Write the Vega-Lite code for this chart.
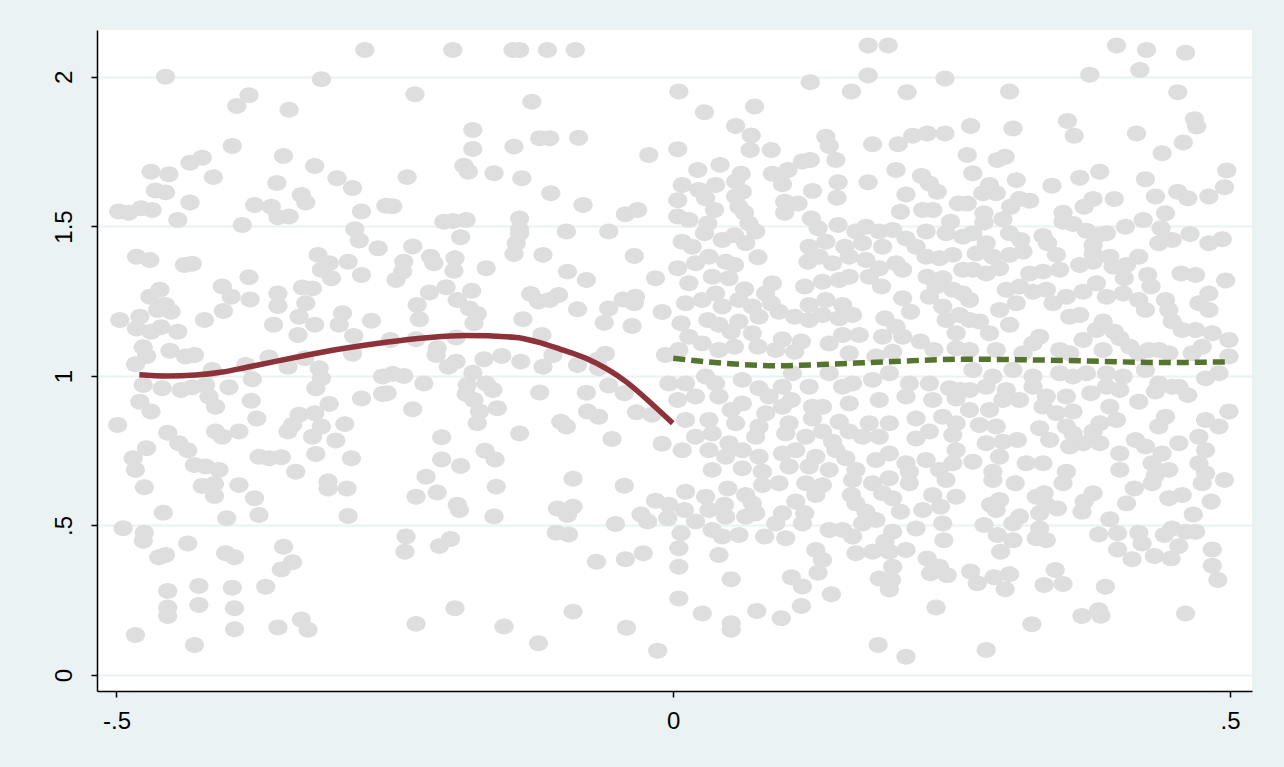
{"$schema":"https://vega.github.io/schema/vega-lite/v6.json","width":1155,"height":661,"autosize":{"type":"none"},"padding":{"left":97,"top":30,"right":32,"bottom":76},"background":"#EAF2F3","config":{"view":{"fill":"white","stroke":null},"font":"Liberation Sans"},
"datasets":{
"left":[{"x":-0.4795,"y":1.004},{"x":-0.455,"y":1.0},{"x":-0.4286,"y":1.003},{"x":-0.405,"y":1.013},{"x":-0.383,"y":1.029},{"x":-0.3388,"y":1.0625},{"x":-0.2993,"y":1.09},{"x":-0.258,"y":1.113},{"x":-0.2185,"y":1.129},{"x":-0.1862,"y":1.135},{"x":-0.1413,"y":1.129},{"x":-0.1233,"y":1.115},{"x":-0.1017,"y":1.09},{"x":-0.0784,"y":1.059},{"x":-0.0425,"y":0.981},{"x":-0.0182,"y":0.903},{"x":-0.0005,"y":0.842}],
"right":[{"x":0.0,"y":1.059},{"x":0.047,"y":1.042},{"x":0.092,"y":1.034},{"x":0.137,"y":1.039},{"x":0.182,"y":1.046},{"x":0.263,"y":1.056},{"x":0.352,"y":1.052},{"x":0.442,"y":1.045},{"x":0.496,"y":1.047}],
"pts":[
{"x":-0.277,"y":2.090},{"x":-0.456,"y":2.001},{"x":-0.316,"y":1.992},{"x":-0.381,"y":1.939},{"x":-0.392,"y":1.903},{"x":-0.345,"y":1.890},{"x":-0.396,"y":1.769},{"x":-0.350,"y":1.736},{"x":-0.423,"y":1.730},{"x":-0.434,"y":1.713},{"x":-0.322,"y":1.702},{"x":-0.469,"y":1.683},{"x":-0.453,"y":1.675},{"x":-0.413,"y":1.665},{"x":-0.302,"y":1.661},{"x":-0.356,"y":1.645},{"x":-0.288,"y":1.629},{"x":-0.465,"y":1.620},{"x":-0.456,"y":1.614},{"x":-0.334,"y":1.605},{"x":-0.330,"y":1.580},{"x":-0.434,"y":1.580},{"x":-0.376,"y":1.572},{"x":-0.361,"y":1.566},{"x":-0.498,"y":1.550},{"x":-0.489,"y":1.546},{"x":-0.478,"y":1.561},{"x":-0.468,"y":1.555},{"x":-0.280,"y":1.550},{"x":-0.258,"y":1.569},{"x":-0.445,"y":1.522},{"x":-0.355,"y":1.531},{"x":-0.345,"y":1.533},{"x":-0.387,"y":1.505},{"x":-0.286,"y":1.491},{"x":-0.282,"y":1.453},{"x":-0.265,"y":1.427},
{"x":-0.198,"y":2.090},{"x":-0.144,"y":2.090},{"x":-0.138,"y":2.090},{"x":-0.113,"y":2.090},{"x":-0.088,"y":2.090},{"x":-0.232,"y":1.942},{"x":-0.127,"y":1.917},{"x":-0.180,"y":1.823},{"x":-0.180,"y":1.759},{"x":-0.120,"y":1.795},{"x":-0.111,"y":1.795},{"x":-0.085,"y":1.797},{"x":-0.143,"y":1.767},{"x":-0.022,"y":1.739},{"x":-0.239,"y":1.665},{"x":-0.188,"y":1.703},{"x":-0.184,"y":1.683},{"x":-0.161,"y":1.678},{"x":-0.136,"y":1.661},{"x":-0.110,"y":1.611},{"x":-0.252,"y":1.568},{"x":-0.081,"y":1.572},{"x":-0.043,"y":1.541},{"x":-0.032,"y":1.555},{"x":-0.206,"y":1.516},{"x":-0.198,"y":1.518},{"x":-0.186,"y":1.522},{"x":-0.138,"y":1.527},{"x":-0.138,"y":1.490},{"x":-0.138,"y":1.477},{"x":-0.096,"y":1.483},{"x":-0.058,"y":1.483},{"x":-0.191,"y":1.464},{"x":-0.141,"y":1.444},{"x":-0.234,"y":1.433},
{"x":-0.482,"y":1.399},{"x":-0.470,"y":1.388},{"x":-0.439,"y":1.371},{"x":-0.432,"y":1.375},{"x":-0.319,"y":1.405},{"x":-0.309,"y":1.377},{"x":-0.292,"y":1.382},{"x":-0.316,"y":1.355},{"x":-0.307,"y":1.327},{"x":-0.280,"y":1.338},{"x":-0.381,"y":1.330},{"x":-0.405,"y":1.299},{"x":-0.397,"y":1.265},{"x":-0.380,"y":1.256},{"x":-0.333,"y":1.296},{"x":-0.324,"y":1.293},{"x":-0.355,"y":1.276},{"x":-0.355,"y":1.234},{"x":-0.330,"y":1.243},{"x":-0.461,"y":1.288},{"x":-0.470,"y":1.265},{"x":-0.456,"y":1.237},{"x":-0.451,"y":1.215},{"x":-0.463,"y":1.221},{"x":-0.497,"y":1.187},{"x":-0.479,"y":1.198},{"x":-0.482,"y":1.159},{"x":-0.460,"y":1.163},{"x":-0.469,"y":1.148},{"x":-0.445,"y":1.148},{"x":-0.421,"y":1.187},{"x":-0.404,"y":1.217},{"x":-0.359,"y":1.171},{"x":-0.336,"y":1.198},{"x":-0.322,"y":1.171},{"x":-0.337,"y":1.137},{"x":-0.297,"y":1.210},{"x":-0.300,"y":1.171},{"x":-0.287,"y":1.134},{"x":-0.271,"y":1.185},{"x":-0.476,"y":1.096},{"x":-0.473,"y":1.067},{"x":-0.452,"y":1.084},{"x":-0.438,"y":1.065},{"x":-0.430,"y":1.070},{"x":-0.483,"y":1.039},{"x":-0.363,"y":1.062},{"x":-0.346,"y":1.031},{"x":-0.331,"y":1.059},{"x":-0.288,"y":1.074},{"x":-0.414,"y":1.020},{"x":-0.384,"y":1.037},{"x":-0.318,"y":1.026},{"x":-0.316,"y":0.992},{"x":-0.261,"y":0.998},{"x":-0.476,"y":0.970},{"x":-0.459,"y":0.959},{"x":-0.442,"y":0.953},{"x":-0.432,"y":0.962},{"x":-0.420,"y":0.970},{"x":-0.399,"y":0.962},{"x":-0.378,"y":0.989},{"x":-0.321,"y":0.959},{"x":-0.417,"y":0.931},{"x":-0.479,"y":0.914},{"x":-0.469,"y":0.881},{"x":-0.411,"y":0.897},{"x":-0.379,"y":0.917},{"x":-0.309,"y":0.906},{"x":-0.280,"y":0.925},{"x":-0.261,"y":0.940},{"x":-0.336,"y":0.870},{"x":-0.322,"y":0.875},{"x":-0.374,"y":0.858},{"x":-0.499,"y":0.836},{"x":-0.342,"y":0.836},{"x":-0.316,"y":0.831},{"x":-0.295,"y":0.839},{"x":-0.454,"y":0.810},{"x":-0.411,"y":0.814},{"x":-0.390,"y":0.814},{"x":-0.346,"y":0.814},{"x":-0.324,"y":0.797},{"x":-0.405,"y":0.797},{"x":-0.303,"y":0.784},{"x":-0.444,"y":0.775},{"x":-0.436,"y":0.752},{"x":-0.473,"y":0.758},{"x":-0.485,"y":0.725},{"x":-0.372,"y":0.730},{"x":-0.363,"y":0.725},{"x":-0.352,"y":0.728},{"x":-0.321,"y":0.739},{"x":-0.289,"y":0.725},{"x":-0.430,"y":0.702},{"x":-0.420,"y":0.697},{"x":-0.408,"y":0.686},{"x":-0.483,"y":0.686},{"x":-0.339,"y":0.680},
{"x":-0.242,"y":1.382},{"x":-0.243,"y":1.349},{"x":-0.249,"y":1.321},{"x":-0.218,"y":1.399},{"x":-0.215,"y":1.377},{"x":-0.196,"y":1.394},{"x":-0.197,"y":1.352},{"x":-0.168,"y":1.360},{"x":-0.143,"y":1.408},{"x":-0.117,"y":1.405},{"x":-0.095,"y":1.349},{"x":-0.078,"y":1.321},{"x":-0.035,"y":1.401},{"x":-0.016,"y":1.327},{"x":-0.219,"y":1.279},{"x":-0.204,"y":1.297},{"x":-0.181,"y":1.285},{"x":-0.194,"y":1.254},{"x":-0.230,"y":1.237},{"x":-0.183,"y":1.226},{"x":-0.176,"y":1.207},{"x":-0.228,"y":1.190},{"x":-0.179,"y":1.176},{"x":-0.128,"y":1.274},{"x":-0.121,"y":1.249},{"x":-0.111,"y":1.254},{"x":-0.103,"y":1.271},{"x":-0.086,"y":1.223},{"x":-0.058,"y":1.226},{"x":-0.045,"y":1.256},{"x":-0.034,"y":1.265},{"x":-0.035,"y":1.243},{"x":-0.062,"y":1.178},{"x":-0.037,"y":1.167},{"x":-0.010,"y":1.214},{"x":-0.135,"y":1.190},{"x":-0.254,"y":1.120},{"x":-0.231,"y":1.123},{"x":-0.195,"y":1.129},{"x":-0.118,"y":1.137},{"x":-0.212,"y":1.093},{"x":-0.213,"y":1.070},{"x":-0.195,"y":1.048},{"x":-0.202,"y":1.031},{"x":-0.170,"y":1.056},{"x":-0.154,"y":1.067},{"x":-0.137,"y":1.048},{"x":-0.117,"y":1.031},{"x":-0.108,"y":1.070},{"x":-0.086,"y":1.037},{"x":-0.061,"y":1.074},{"x":-0.068,"y":1.054},{"x":-0.067,"y":1.026},{"x":-0.007,"y":1.070},{"x":-0.252,"y":1.007},{"x":-0.242,"y":1.000},{"x":-0.180,"y":1.011},{"x":-0.224,"y":0.975},{"x":-0.185,"y":0.970},{"x":-0.168,"y":0.975},{"x":-0.162,"y":0.953},{"x":-0.257,"y":0.942},{"x":-0.186,"y":0.940},{"x":-0.179,"y":0.920},{"x":-0.120,"y":0.945},{"x":-0.078,"y":0.944},{"x":-0.058,"y":0.968},{"x":-0.044,"y":0.942},{"x":-0.004,"y":0.975},{"x":-0.234,"y":0.889},{"x":-0.174,"y":0.881},{"x":-0.158,"y":0.892},{"x":-0.077,"y":0.881},{"x":-0.067,"y":0.864},{"x":-0.033,"y":0.879},{"x":-0.019,"y":0.870},{"x":-0.176,"y":0.842},{"x":-0.101,"y":0.847},{"x":-0.096,"y":0.831},{"x":-0.138,"y":0.808},{"x":-0.208,"y":0.795},{"x":-0.055,"y":0.789},{"x":-0.010,"y":0.773},{"x":-0.169,"y":0.750},{"x":-0.160,"y":0.721},{"x":-0.208,"y":0.721},{"x":-0.191,"y":0.699},
{"x":-0.475,"y":0.628},{"x":-0.423,"y":0.632},{"x":-0.412,"y":0.639},{"x":-0.412,"y":0.599},{"x":-0.390,"y":0.635},{"x":-0.376,"y":0.591},{"x":-0.310,"y":0.647},{"x":-0.310,"y":0.624},{"x":-0.293,"y":0.624},{"x":-0.458,"y":0.543},{"x":-0.401,"y":0.524},{"x":-0.372,"y":0.535},{"x":-0.292,"y":0.532},{"x":-0.494,"y":0.491},{"x":-0.475,"y":0.476},{"x":-0.476,"y":0.449},{"x":-0.436,"y":0.440},{"x":-0.462,"y":0.394},{"x":-0.456,"y":0.401},{"x":-0.402,"y":0.407},{"x":-0.394,"y":0.394},{"x":-0.350,"y":0.429},{"x":-0.342,"y":0.377},{"x":-0.352,"y":0.353},{"x":-0.454,"y":0.281},{"x":-0.426,"y":0.298},{"x":-0.396,"y":0.292},{"x":-0.366,"y":0.295},{"x":-0.454,"y":0.226},{"x":-0.454,"y":0.197},{"x":-0.426,"y":0.234},{"x":-0.394,"y":0.223},{"x":-0.483,"y":0.134},{"x":-0.430,"y":0.100},{"x":-0.394,"y":0.153},{"x":-0.355,"y":0.159},{"x":-0.334,"y":0.186},{"x":-0.328,"y":0.151},
{"x":-0.222,"y":0.663},{"x":-0.231,"y":0.596},{"x":-0.212,"y":0.610},{"x":-0.194,"y":0.569},{"x":-0.192,"y":0.552},{"x":-0.159,"y":0.630},{"x":-0.161,"y":0.530},{"x":-0.090,"y":0.656},{"x":-0.104,"y":0.557},{"x":-0.090,"y":0.563},{"x":-0.095,"y":0.535},{"x":-0.105,"y":0.476},{"x":-0.094,"y":0.470},{"x":-0.044,"y":0.633},{"x":-0.016,"y":0.583},{"x":-0.004,"y":0.569},{"x":-0.029,"y":0.537},{"x":-0.023,"y":0.513},{"x":-0.052,"y":0.505},{"x":-0.005,"y":0.524},{"x":-0.240,"y":0.463},{"x":-0.241,"y":0.412},{"x":-0.210,"y":0.431},{"x":-0.200,"y":0.455},{"x":-0.069,"y":0.379},{"x":-0.043,"y":0.387},{"x":-0.027,"y":0.407},{"x":-0.196,"y":0.223},{"x":-0.231,"y":0.171},{"x":-0.152,"y":0.162},{"x":-0.121,"y":0.106},{"x":-0.090,"y":0.212},{"x":-0.042,"y":0.158},{"x":-0.014,"y":0.081},
{"x":0.175,"y":2.105},{"x":0.193,"y":2.105},{"x":0.175,"y":2.005},{"x":0.123,"y":1.982},{"x":0.244,"y":1.995},{"x":0.160,"y":1.951},{"x":0.210,"y":1.949},{"x":0.005,"y":1.951},{"x":0.028,"y":1.882},{"x":0.073,"y":1.901},{"x":0.056,"y":1.836},{"x":0.070,"y":1.804},{"x":0.069,"y":1.756},{"x":0.088,"y":1.756},{"x":0.137,"y":1.800},{"x":0.140,"y":1.769},{"x":0.179,"y":1.775},{"x":0.202,"y":1.775},{"x":0.215,"y":1.803},{"x":0.228,"y":1.811},{"x":0.244,"y":1.811},{"x":0.004,"y":1.758},{"x":0.022,"y":1.689},{"x":0.042,"y":1.706},{"x":0.061,"y":1.676},{"x":0.056,"y":1.650},{"x":0.089,"y":1.676},{"x":0.103,"y":1.689},{"x":0.116,"y":1.717},{"x":0.123,"y":1.722},{"x":0.146,"y":1.722},{"x":0.098,"y":1.641},{"x":0.148,"y":1.648},{"x":0.175,"y":1.648},{"x":0.200,"y":1.689},{"x":0.223,"y":1.669},{"x":0.230,"y":1.644},{"x":0.237,"y":1.616},{"x":0.008,"y":1.639},{"x":0.023,"y":1.622},{"x":0.038,"y":1.639},{"x":0.029,"y":1.594},{"x":0.062,"y":1.616},{"x":0.056,"y":1.600},{"x":0.004,"y":1.588},{"x":0.037,"y":1.555},{"x":0.059,"y":1.566},{"x":0.064,"y":1.546},{"x":0.100,"y":1.583},{"x":0.112,"y":1.577},{"x":0.100,"y":1.546},{"x":0.125,"y":1.619},{"x":0.147,"y":1.596},{"x":0.209,"y":1.607},{"x":0.204,"y":1.549},{"x":0.224,"y":1.555},{"x":0.233,"y":1.555},{"x":0.256,"y":1.577},{"x":0.249,"y":1.516},{"x":0.014,"y":1.522},{"x":0.004,"y":1.533},{"x":0.031,"y":1.510},{"x":0.068,"y":1.510},{"x":0.074,"y":1.483},{"x":0.028,"y":1.477},{"x":0.055,"y":1.471},{"x":0.044,"y":1.455},{"x":0.065,"y":1.444},{"x":0.008,"y":1.449},{"x":0.017,"y":1.432},{"x":0.124,"y":1.527},{"x":0.130,"y":1.494},{"x":0.148,"y":1.505},{"x":0.122,"y":1.432},{"x":0.137,"y":1.449},{"x":0.154,"y":1.432},{"x":0.164,"y":1.483},{"x":0.173,"y":1.499},{"x":0.185,"y":1.483},{"x":0.197,"y":1.488},{"x":0.209,"y":1.460},{"x":0.227,"y":1.483},{"x":0.245,"y":1.477},{"x":0.260,"y":1.466},{"x":0.170,"y":1.444},{"x":0.188,"y":1.432},{"x":0.218,"y":1.432},
{"x":0.398,"y":2.105},{"x":0.425,"y":2.090},{"x":0.460,"y":2.081},{"x":0.374,"y":2.007},{"x":0.419,"y":2.023},{"x":0.302,"y":1.951},{"x":0.453,"y":1.949},{"x":0.267,"y":1.836},{"x":0.305,"y":1.828},{"x":0.354,"y":1.853},{"x":0.360,"y":1.803},{"x":0.416,"y":1.811},{"x":0.468,"y":1.859},{"x":0.470,"y":1.834},{"x":0.458,"y":1.781},{"x":0.439,"y":1.745},{"x":0.264,"y":1.739},{"x":0.291,"y":1.722},{"x":0.298,"y":1.733},{"x":0.269,"y":1.678},{"x":0.308,"y":1.655},{"x":0.284,"y":1.639},{"x":0.278,"y":1.611},{"x":0.290,"y":1.611},{"x":0.340,"y":1.636},{"x":0.365,"y":1.663},{"x":0.383,"y":1.683},{"x":0.424,"y":1.658},{"x":0.497,"y":1.687},{"x":0.495,"y":1.631},{"x":0.264,"y":1.577},{"x":0.311,"y":1.592},{"x":0.320,"y":1.586},{"x":0.303,"y":1.566},{"x":0.377,"y":1.592},{"x":0.369,"y":1.566},{"x":0.396,"y":1.592},{"x":0.433,"y":1.600},{"x":0.453,"y":1.616},{"x":0.462,"y":1.594},{"x":0.481,"y":1.600},{"x":0.279,"y":1.544},{"x":0.279,"y":1.513},{"x":0.296,"y":1.524},{"x":0.350,"y":1.546},{"x":0.350,"y":1.516},{"x":0.359,"y":1.508},{"x":0.371,"y":1.486},{"x":0.406,"y":1.499},{"x":0.422,"y":1.522},{"x":0.442,"y":1.544},{"x":0.438,"y":1.494},{"x":0.269,"y":1.477},{"x":0.281,"y":1.444},{"x":0.302,"y":1.477},{"x":0.312,"y":1.455},{"x":0.332,"y":1.468},{"x":0.336,"y":1.444},{"x":0.381,"y":1.471},{"x":0.389,"y":1.477},{"x":0.377,"y":1.438},{"x":0.436,"y":1.444},{"x":0.448,"y":1.455},{"x":0.464,"y":1.475},{"x":0.481,"y":1.444},{"x":0.493,"y":1.457},
{"x":0.004,"y":1.360},{"x":0.020,"y":1.377},{"x":0.032,"y":1.399},{"x":0.047,"y":1.382},{"x":0.055,"y":1.371},{"x":0.076,"y":1.397},{"x":0.035,"y":1.332},{"x":0.014,"y":1.310},{"x":0.050,"y":1.327},{"x":0.064,"y":1.290},{"x":0.089,"y":1.310},{"x":0.121,"y":1.382},{"x":0.131,"y":1.399},{"x":0.143,"y":1.377},{"x":0.158,"y":1.399},{"x":0.173,"y":1.388},{"x":0.185,"y":1.360},{"x":0.200,"y":1.377},{"x":0.206,"y":1.355},{"x":0.227,"y":1.399},{"x":0.239,"y":1.394},{"x":0.251,"y":1.405},{"x":0.260,"y":1.355},{"x":0.118,"y":1.299},{"x":0.134,"y":1.315},{"x":0.149,"y":1.321},{"x":0.158,"y":1.332},{"x":0.176,"y":1.332},{"x":0.187,"y":1.299},{"x":0.228,"y":1.332},{"x":0.242,"y":1.327},{"x":0.236,"y":1.299},{"x":0.251,"y":1.288},{"x":0.260,"y":1.276},{"x":0.011,"y":1.243},{"x":0.026,"y":1.254},{"x":0.038,"y":1.276},{"x":0.044,"y":1.232},{"x":0.059,"y":1.254},{"x":0.071,"y":1.232},{"x":0.083,"y":1.276},{"x":0.088,"y":1.243},{"x":0.077,"y":1.198},{"x":0.095,"y":1.215},{"x":0.109,"y":1.198},{"x":0.122,"y":1.237},{"x":0.122,"y":1.187},{"x":0.137,"y":1.254},{"x":0.152,"y":1.237},{"x":0.134,"y":1.204},{"x":0.149,"y":1.193},{"x":0.161,"y":1.204},{"x":0.190,"y":1.193},{"x":0.206,"y":1.260},{"x":0.213,"y":1.215},{"x":0.230,"y":1.265},{"x":0.242,"y":1.232},{"x":0.245,"y":1.187},{"x":0.257,"y":1.204},{"x":0.007,"y":1.176},{"x":0.031,"y":1.187},{"x":0.041,"y":1.171},{"x":0.059,"y":1.182},{"x":0.014,"y":1.131},{"x":0.026,"y":1.109},{"x":0.052,"y":1.148},{"x":0.071,"y":1.143},{"x":0.055,"y":1.098},{"x":0.076,"y":1.098},{"x":0.098,"y":1.123},{"x":0.115,"y":1.115},{"x":0.092,"y":1.087},{"x":0.109,"y":1.081},{"x":0.140,"y":1.109},{"x":0.152,"y":1.137},{"x":0.167,"y":1.137},{"x":0.188,"y":1.131},{"x":0.200,"y":1.165},{"x":0.206,"y":1.131},{"x":0.222,"y":1.115},{"x":0.234,"y":1.087},{"x":0.254,"y":1.143},{"x":0.254,"y":1.093},{"x":0.041,"y":1.087},{"x":0.005,"y":1.087},{"x":0.158,"y":1.076},{"x":0.182,"y":1.065},{"x":0.197,"y":1.081},{"x":0.011,"y":0.975},{"x":0.029,"y":0.998},{"x":0.038,"y":0.975},{"x":0.062,"y":0.987},{"x":0.077,"y":0.959},{"x":0.098,"y":0.964},{"x":0.122,"y":0.964},{"x":0.140,"y":1.009},{"x":0.107,"y":1.009},{"x":0.152,"y":0.964},{"x":0.161,"y":0.975},{"x":0.179,"y":0.987},{"x":0.194,"y":1.009},{"x":0.212,"y":0.975},{"x":0.230,"y":0.975},{"x":0.248,"y":0.959},{"x":0.258,"y":0.953},{"x":0.004,"y":0.920},{"x":0.020,"y":0.931},{"x":0.041,"y":0.931},{"x":0.052,"y":0.886},{"x":0.062,"y":0.908},{"x":0.086,"y":0.931},{"x":0.098,"y":0.897},{"x":0.106,"y":0.920},{"x":0.125,"y":0.897},{"x":0.134,"y":0.897},{"x":0.158,"y":0.908},{"x":0.185,"y":0.920},{"x":0.209,"y":0.931},{"x":0.233,"y":0.920},{"x":0.254,"y":0.925},{"x":0.011,"y":0.853},{"x":0.032,"y":0.853},{"x":0.056,"y":0.842},{"x":0.083,"y":0.875},{"x":0.077,"y":0.831},{"x":0.104,"y":0.842},{"x":0.125,"y":0.858},{"x":0.149,"y":0.847},{"x":0.158,"y":0.814},{"x":0.176,"y":0.842},{"x":0.194,"y":0.842},{"x":0.218,"y":0.858},{"x":0.242,"y":0.864},{"x":0.254,"y":0.842},{"x":0.020,"y":0.797},{"x":0.035,"y":0.808},{"x":0.050,"y":0.775},{"x":0.074,"y":0.797},{"x":0.101,"y":0.808},{"x":0.119,"y":0.797},{"x":0.134,"y":0.814},{"x":0.143,"y":0.780},{"x":0.170,"y":0.797},{"x":0.185,"y":0.797},{"x":0.218,"y":0.791},{"x":0.230,"y":0.814},{"x":0.251,"y":0.803},{"x":0.008,"y":0.752},{"x":0.032,"y":0.752},{"x":0.047,"y":0.730},{"x":0.062,"y":0.752},{"x":0.077,"y":0.730},{"x":0.098,"y":0.741},{"x":0.110,"y":0.752},{"x":0.128,"y":0.730},{"x":0.146,"y":0.752},{"x":0.155,"y":0.725},{"x":0.182,"y":0.719},{"x":0.194,"y":0.741},{"x":0.209,"y":0.708},{"x":0.227,"y":0.719},{"x":0.254,"y":0.752},{"x":0.251,"y":0.708},{"x":0.035,"y":0.686},{"x":0.062,"y":0.691},{"x":0.080,"y":0.680},{"x":0.104,"y":0.697},{"x":0.122,"y":0.697},{"x":0.140,"y":0.686},{"x":0.164,"y":0.686},{"x":0.212,"y":0.680},{"x":0.239,"y":0.686},
{"x":0.272,"y":1.410},{"x":0.287,"y":1.399},{"x":0.302,"y":1.405},{"x":0.314,"y":1.416},{"x":0.344,"y":1.405},{"x":0.377,"y":1.410},{"x":0.392,"y":1.399},{"x":0.418,"y":1.399},{"x":0.269,"y":1.355},{"x":0.281,"y":1.343},{"x":0.293,"y":1.360},{"x":0.320,"y":1.343},{"x":0.332,"y":1.349},{"x":0.347,"y":1.355},{"x":0.365,"y":1.371},{"x":0.377,"y":1.382},{"x":0.395,"y":1.366},{"x":0.407,"y":1.371},{"x":0.426,"y":1.338},{"x":0.405,"y":1.327},{"x":0.456,"y":1.343},{"x":0.469,"y":1.338},{"x":0.496,"y":1.319},{"x":0.266,"y":1.254},{"x":0.299,"y":1.288},{"x":0.311,"y":1.299},{"x":0.323,"y":1.282},{"x":0.335,"y":1.288},{"x":0.308,"y":1.243},{"x":0.341,"y":1.243},{"x":0.353,"y":1.265},{"x":0.368,"y":1.282},{"x":0.380,"y":1.310},{"x":0.389,"y":1.265},{"x":0.404,"y":1.276},{"x":0.418,"y":1.254},{"x":0.429,"y":1.299},{"x":0.424,"y":1.221},{"x":0.442,"y":1.254},{"x":0.445,"y":1.221},{"x":0.472,"y":1.243},{"x":0.481,"y":1.276},{"x":0.481,"y":1.221},{"x":0.266,"y":1.187},{"x":0.275,"y":1.182},{"x":0.293,"y":1.221},{"x":0.302,"y":1.171},{"x":0.284,"y":1.143},{"x":0.323,"y":1.109},{"x":0.329,"y":1.131},{"x":0.356,"y":1.198},{"x":0.365,"y":1.204},{"x":0.368,"y":1.120},{"x":0.380,"y":1.154},{"x":0.386,"y":1.182},{"x":0.396,"y":1.148},{"x":0.401,"y":1.126},{"x":0.410,"y":1.098},{"x":0.427,"y":1.087},{"x":0.448,"y":1.182},{"x":0.457,"y":1.154},{"x":0.469,"y":1.154},{"x":0.484,"y":1.143},{"x":0.499,"y":1.120},{"x":0.475,"y":1.098},{"x":0.499,"y":1.065},{"x":0.266,"y":1.087},{"x":0.290,"y":1.087},{"x":0.314,"y":1.076},{"x":0.347,"y":1.087},{"x":0.356,"y":1.076},{"x":0.386,"y":1.087},{"x":0.418,"y":1.076},{"x":0.436,"y":1.087},{"x":0.445,"y":1.076},{"x":0.466,"y":1.076},{"x":0.269,"y":1.020},{"x":0.287,"y":0.998},{"x":0.305,"y":1.020},{"x":0.323,"y":0.998},{"x":0.347,"y":1.009},{"x":0.359,"y":0.998},{"x":0.371,"y":1.009},{"x":0.389,"y":1.009},{"x":0.404,"y":0.998},{"x":0.424,"y":1.020},{"x":0.436,"y":0.975},{"x":0.454,"y":0.964},{"x":0.478,"y":0.992},{"x":0.490,"y":1.009},{"x":0.266,"y":0.953},{"x":0.281,"y":0.964},{"x":0.299,"y":0.953},{"x":0.323,"y":0.964},{"x":0.335,"y":0.931},{"x":0.353,"y":0.931},{"x":0.375,"y":0.942},{"x":0.389,"y":0.964},{"x":0.401,"y":0.953},{"x":0.418,"y":0.914},{"x":0.433,"y":0.948},{"x":0.448,"y":0.964},{"x":0.462,"y":0.936},{"x":0.296,"y":0.920},{"x":0.311,"y":0.920},{"x":0.284,"y":0.886},{"x":0.266,"y":0.886},{"x":0.332,"y":0.897},{"x":0.344,"y":0.875},{"x":0.359,"y":0.881},{"x":0.392,"y":0.897},{"x":0.398,"y":0.853},{"x":0.383,"y":0.842},{"x":0.329,"y":0.825},{"x":0.353,"y":0.831},{"x":0.275,"y":0.836},{"x":0.290,"y":0.831},{"x":0.359,"y":0.808},{"x":0.377,"y":0.814},{"x":0.442,"y":0.864},{"x":0.436,"y":0.831},{"x":0.478,"y":0.853},{"x":0.490,"y":0.831},{"x":0.499,"y":0.881},{"x":0.281,"y":0.775},{"x":0.296,"y":0.780},{"x":0.309,"y":0.786},{"x":0.338,"y":0.786},{"x":0.356,"y":0.764},{"x":0.368,"y":0.775},{"x":0.383,"y":0.775},{"x":0.401,"y":0.741},{"x":0.415,"y":0.786},{"x":0.424,"y":0.764},{"x":0.439,"y":0.741},{"x":0.454,"y":0.775},{"x":0.472,"y":0.797},{"x":0.478,"y":0.752},{"x":0.269,"y":0.713},{"x":0.293,"y":0.730},{"x":0.317,"y":0.708},{"x":0.353,"y":0.680},{"x":0.401,"y":0.686},{"x":0.430,"y":0.708},{"x":0.445,"y":0.686},{"x":0.472,"y":0.708},{"x":0.478,"y":0.675},{"x":0.287,"y":0.680},{"x":0.332,"y":0.708},
{"x":0.011,"y":0.613},{"x":0.029,"y":0.596},{"x":0.049,"y":0.624},{"x":0.065,"y":0.602},{"x":0.071,"y":0.574},{"x":0.010,"y":0.552},{"x":0.032,"y":0.552},{"x":0.046,"y":0.569},{"x":0.047,"y":0.529},{"x":0.020,"y":0.513},{"x":0.007,"y":0.474},{"x":0.035,"y":0.485},{"x":0.044,"y":0.463},{"x":0.059,"y":0.468},{"x":0.065,"y":0.529},{"x":0.074,"y":0.541},{"x":0.080,"y":0.635},{"x":0.095,"y":0.641},{"x":0.119,"y":0.641},{"x":0.134,"y":0.635},{"x":0.128,"y":0.602},{"x":0.110,"y":0.580},{"x":0.098,"y":0.541},{"x":0.092,"y":0.507},{"x":0.082,"y":0.463},{"x":0.101,"y":0.457},{"x":0.116,"y":0.507},{"x":0.118,"y":0.541},{"x":0.140,"y":0.485},{"x":0.152,"y":0.485},{"x":0.161,"y":0.463},{"x":0.160,"y":0.602},{"x":0.164,"y":0.574},{"x":0.161,"y":0.652},{"x":0.179,"y":0.641},{"x":0.194,"y":0.658},{"x":0.212,"y":0.641},{"x":0.188,"y":0.608},{"x":0.197,"y":0.591},{"x":0.173,"y":0.546},{"x":0.182,"y":0.518},{"x":0.170,"y":0.507},{"x":0.204,"y":0.546},{"x":0.224,"y":0.552},{"x":0.233,"y":0.602},{"x":0.240,"y":0.563},{"x":0.254,"y":0.596},{"x":0.245,"y":0.652},{"x":0.242,"y":0.507},{"x":0.218,"y":0.490},{"x":0.197,"y":0.479},{"x":0.190,"y":0.446},{"x":0.243,"y":0.451},{"x":0.005,"y":0.424},{"x":0.005,"y":0.362},{"x":0.041,"y":0.401},{"x":0.052,"y":0.320},{"x":0.005,"y":0.256},{"x":0.026,"y":0.206},{"x":0.052,"y":0.173},{"x":0.052,"y":0.151},{"x":0.075,"y":0.214},{"x":0.097,"y":0.190},{"x":0.115,"y":0.231},{"x":0.106,"y":0.327},{"x":0.116,"y":0.296},{"x":0.130,"y":0.342},{"x":0.128,"y":0.418},{"x":0.134,"y":0.385},{"x":0.142,"y":0.270},{"x":0.164,"y":0.407},{"x":0.179,"y":0.412},{"x":0.194,"y":0.412},{"x":0.209,"y":0.418},{"x":0.197,"y":0.362},{"x":0.185,"y":0.323},{"x":0.196,"y":0.318},{"x":0.194,"y":0.286},{"x":0.228,"y":0.390},{"x":0.239,"y":0.362},{"x":0.246,"y":0.334},{"x":0.231,"y":0.340},{"x":0.236,"y":0.226},{"x":0.184,"y":0.100},{"x":0.209,"y":0.061},
{"x":0.287,"y":0.652},{"x":0.307,"y":0.641},{"x":0.326,"y":0.596},{"x":0.333,"y":0.608},{"x":0.350,"y":0.641},{"x":0.377,"y":0.608},{"x":0.369,"y":0.580},{"x":0.367,"y":0.546},{"x":0.293,"y":0.585},{"x":0.285,"y":0.569},{"x":0.290,"y":0.552},{"x":0.311,"y":0.530},{"x":0.305,"y":0.507},{"x":0.329,"y":0.541},{"x":0.335,"y":0.569},{"x":0.345,"y":0.557},{"x":0.329,"y":0.490},{"x":0.326,"y":0.457},{"x":0.335,"y":0.451},{"x":0.279,"y":0.502},{"x":0.291,"y":0.468},{"x":0.305,"y":0.451},{"x":0.294,"y":0.412},{"x":0.414,"y":0.624},{"x":0.430,"y":0.641},{"x":0.433,"y":0.669},{"x":0.407,"y":0.574},{"x":0.445,"y":0.591},{"x":0.457,"y":0.602},{"x":0.475,"y":0.641},{"x":0.495,"y":0.652},{"x":0.483,"y":0.580},{"x":0.467,"y":0.537},{"x":0.392,"y":0.521},{"x":0.382,"y":0.470},{"x":0.399,"y":0.474},{"x":0.418,"y":0.476},{"x":0.421,"y":0.440},{"x":0.399,"y":0.420},{"x":0.412,"y":0.387},{"x":0.432,"y":0.398},{"x":0.447,"y":0.390},{"x":0.441,"y":0.468},{"x":0.448,"y":0.490},{"x":0.460,"y":0.479},{"x":0.469,"y":0.479},{"x":0.454,"y":0.431},{"x":0.484,"y":0.420},{"x":0.484,"y":0.365},{"x":0.489,"y":0.318},{"x":0.267,"y":0.346},{"x":0.273,"y":0.307},{"x":0.288,"y":0.327},{"x":0.302,"y":0.337},{"x":0.298,"y":0.287},{"x":0.333,"y":0.301},{"x":0.343,"y":0.351},{"x":0.350,"y":0.304},{"x":0.388,"y":0.295},{"x":0.367,"y":0.197},{"x":0.382,"y":0.217},{"x":0.384,"y":0.198},{"x":0.322,"y":0.170},{"x":0.460,"y":0.206},{"x":0.281,"y":0.084}
]},
"layer":[
{"data":{"name":"pts"},"mark":{"type":"point","filled":true,"shape":"M-1,0A1,0.83,0,1,1,1,0A1,0.83,0,1,1,-1,0Z","size":370,"color":"#DEDEDE","opacity":1,"strokeWidth":0},
"encoding":{
"x":{"field":"x","type":"quantitative","scale":{"domain":[-0.5175,0.5197],"nice":false,"zero":false},"axis":{"values":[-0.5,0,0.5],"labelExpr":"datum.value < 0 ? '-.5' : (datum.value > 0 ? '.5' : '0')","title":null,"grid":false,"domainColor":"black","domainWidth":1.5,"tickColor":"black","tickSize":6,"tickWidth":1.5,"labelFontSize":24,"labelColor":"black","labelPadding":12,"labelFont":"Liberation Sans"}},
"y":{"field":"y","type":"quantitative","scale":{"domain":[-0.0535,2.157],"nice":false,"zero":false},"axis":{"values":[0,0.5,1,1.5,2],"labelExpr":"datum.value == 0.5 ? '.5' : (datum.value == 1.5 ? '1.5' : format(datum.value, 'd'))","title":null,"grid":true,"gridColor":"#EAF2F3","gridWidth":2,"domainColor":"black","domainWidth":1.5,"tickColor":"black","tickSize":6,"tickWidth":1.5,"labelFontSize":24,"labelColor":"black","labelAngle":270,"labelAlign":"center","labelBaseline":"alphabetic","labelPadding":20,"labelFont":"Liberation Sans"}}}},
{"data":{"name":"left"},"mark":{"type":"line","color":"#8E3239","strokeWidth":5.5,"interpolate":"monotone"},"encoding":{"x":{"field":"x","type":"quantitative"},"y":{"field":"y","type":"quantitative"}}},
{"data":{"name":"right"},"mark":{"type":"line","color":"#55752F","strokeWidth":5.5,"strokeDash":[12,6],"interpolate":"monotone"},"encoding":{"x":{"field":"x","type":"quantitative"},"y":{"field":"y","type":"quantitative"}}}
]}
